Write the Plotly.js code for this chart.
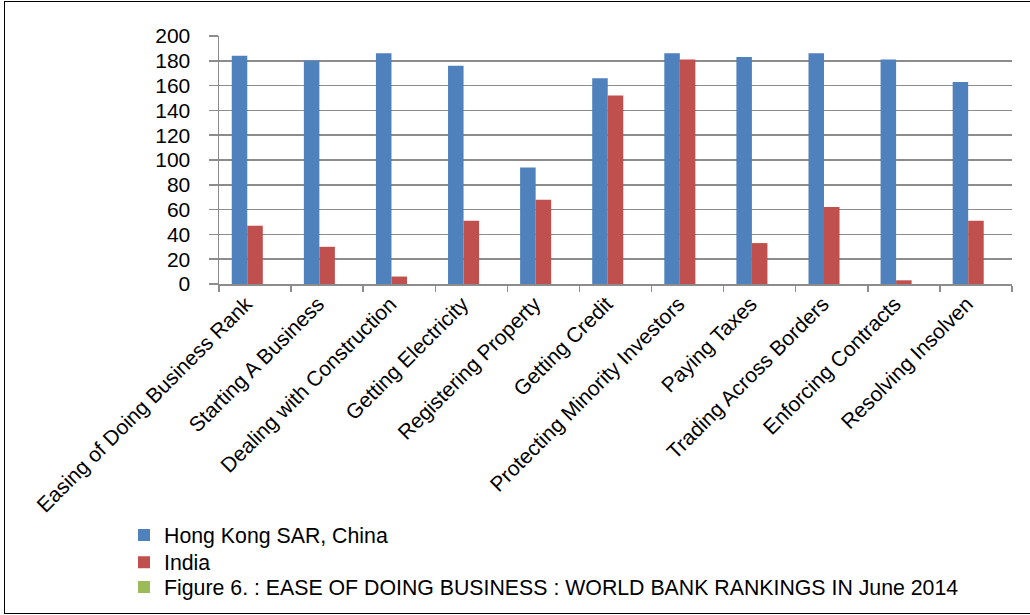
<!DOCTYPE html>
<html>
<head>
<meta charset="utf-8">
<script src="https://cdn.plot.ly/plotly-3.0.1.min.js"></script>
<style>
  html, body { margin: 0; padding: 0; background: #fff; overflow: hidden; }
  #chart { width: 1030px; height: 615px; }
  #frame { position: absolute; left: 4px; top: 1px; width: 1040px; height: 611px;
           border-left: 1.5px solid #000; border-top: 1.5px solid #000; border-bottom: 1.5px solid #000;
           pointer-events: none; }
</style>
</head>
<body>
<div id="chart"></div>
<div id="frame"></div>
<script>
const categories = [
  "Easing of Doing Business Rank",
  "Starting A Business",
  "Dealing with Construction",
  "Getting Electricity",
  "Registering Property",
  "Getting Credit",
  "Protecting Minority Investors",
  "Paying Taxes",
  "Trading Across Borders",
  "Enforcing Contracts",
  "Resolving Insolven"
];
const hongKong = [184, 180, 186, 176, 94, 166, 186, 183, 186, 181, 163];
const india    = [47, 30, 6, 51, 68, 152, 181, 33, 62, 3, 51];
const figureSeries = [null, null, null, null, null, null, null, null, null, null, null];
const seriesNames = [
  "Hong Kong SAR, China",
  "India",
  "Figure 6. : EASE OF DOING BUSINESS : WORLD BANK RANKINGS IN June 2014"
];
const yTicks = [0, 20, 40, 60, 80, 100, 120, 140, 160, 180, 200];

const font = "Liberation Sans, Arial, sans-serif";

const traces = [
  { type: "bar", name: seriesNames[0], x: categories, y: hongKong,
    marker: { color: "#4F81BD" }, legend: "legend" },
  { type: "bar", name: seriesNames[1], x: categories, y: india,
    marker: { color: "#C0504D" }, legend: "legend2" },
  { type: "bar", name: seriesNames[2], x: categories, y: figureSeries,
    marker: { color: "#9BBB59" }, legend: "legend3" }
];

function legendAt(yTop) {
  return {
    xref: "container", yref: "container",
    x: 0.1204, y: yTop, xanchor: "left", yanchor: "top",
    orientation: "v",
    font: { family: font, size: 21.3, color: "#000" },
    bgcolor: "rgba(0,0,0,0)", borderwidth: 0
  };
}

const layout = {
  width: 1030, height: 615,
  margin: { l: 219, r: 18, t: 36, b: 331, autoexpand: false },
  paper_bgcolor: "#fff", plot_bgcolor: "#fff",
  barmode: "group", bargap: 0.354, bargroupgap: 0,
  font: { family: font, color: "#000", size: 20 },
  xaxis: {
    type: "category",
    tickangle: -45,
    tickson: "boundaries",
    ticks: "outside", ticklen: 6, tickcolor: "#8c8c8c", tickwidth: 1.5,
    showline: true, linecolor: "#8c8c8c", linewidth: 1.5,
    showgrid: false,
    ticklabelshift: -9,
    ticklabelstandoff: -2,
    tickfont: { family: font, size: 21, color: "#000" },
    automargin: false
  },
  yaxis: {
    range: [0, 200],
    tickvals: yTicks,
    ticktext: yTicks.map(String),
    ticks: "outside", ticklen: 9, tickcolor: "#8c8c8c", tickwidth: 1.5,
    showline: true, linecolor: "#8c8c8c", linewidth: 1.5,
    showgrid: true, gridcolor: "#8c8c8c", gridwidth: 1.5,
    zeroline: false,
    ticklabelstandoff: 14,
    tickfont: { family: font, size: 21, color: "#000" },
    automargin: false
  },
  shapes: [
    { type: "line", xref: "paper", yref: "y", x0: 0, x1: 1, y0: 100, y1: 100,
      line: { color: "rgba(255,255,255,0.85)", width: 1.5 }, layer: "below" }
  ],
  showlegend: true,
  legend: legendAt(0.163),
  legend2: legendAt(0.119),
  legend3: legendAt(0.0785)
};

Plotly.newPlot("chart", traces, layout, { displayModeBar: false, staticPlot: true });
</script>
</body>
</html>
